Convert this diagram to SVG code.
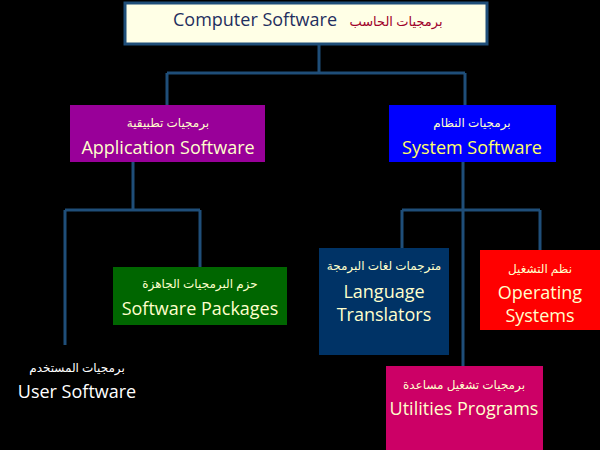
<svg xmlns="http://www.w3.org/2000/svg" width="600" height="450" viewBox="0 0 600 450">
<style>
.c{stroke:#1F4E79;stroke-width:3;fill:none}
.en{font-family:"Open Sans","DejaVu Sans",sans-serif;font-size:18px;fill:#FFFFCC;text-anchor:middle}
.ar{font-family:"Noto Sans","DejaVu Sans",sans-serif;font-size:12px;fill:#FFFFCC;text-anchor:middle}
</style>
<rect width="600" height="450" fill="#000"/>
<g id="connectors" class="c">
<path d="M319 44V73M167 73H465M167 73V105M465 73V105"/>
<path d="M133 162V210M65 210H200M65 210V345M200 210V267"/>
<path d="M463 162V366M402 210H540M402 210V248M540 210V250"/>
</g>
<g id="root">
<rect x="125" y="3" width="362" height="41" fill="#FFFFE6" stroke="#1F4E79" stroke-width="3"/>
<text x="255" y="26" font-family="Open Sans,DejaVu Sans,sans-serif" font-size="18" fill="#1F2F5F" text-anchor="middle">Computer Software</text>
<text x="396" y="26" font-family="Noto Sans,DejaVu Sans,sans-serif" font-size="13" fill="#A0002A" text-anchor="middle">برمجيات الحاسب</text>
</g>
<g id="app">
<rect x="70" y="105" width="195" height="57" fill="#990099"/>
<text class="ar" x="168" y="127">برمجيات تطبيقية</text>
<text class="en" x="168" y="154">Application Software</text>
</g>
<g id="sys">
<rect x="389" y="105" width="167" height="57" fill="#0000FF"/>
<text class="ar" x="472" y="127">برمجيات النظام</text>
<text class="en" x="472" y="154" fill="#FFFF66" style="fill:#FFFF66">System Software</text>
</g>
<g id="packages">
<rect x="113" y="267" width="174" height="58" fill="#006600"/>
<text class="ar" x="200" y="288">حزم البرمجيات الجاهزة</text>
<text class="en" x="200" y="315">Software Packages</text>
</g>
<g id="user">
<text class="ar" x="77" y="372" style="fill:#fff">برمجيات المستخدم</text>
<text class="en" x="77" y="398" style="fill:#fff">User Software</text>
</g>
<g id="lang">
<rect x="319" y="248" width="130" height="107" fill="#003366"/>
<text class="ar" x="384" y="270">مترجمات لغات البرمجة</text>
<text class="en" x="384" y="298">Language</text>
<text class="en" x="384" y="321">Translators</text>
</g>
<g id="os">
<rect x="480" y="250" width="120" height="80" fill="#FF0000"/>
<text class="ar" x="540" y="273">نظم التشغيل</text>
<text class="en" x="540" y="299">Operating</text>
<text class="en" x="540" y="322">Systems</text>
</g>
<g id="util">
<rect x="386" y="366" width="157" height="84" fill="#CC0066"/>
<text class="ar" x="464" y="389">برمجيات تشغيل مساعدة</text>
<text class="en" x="464" y="415">Utilities Programs</text>
</g>
</svg>
